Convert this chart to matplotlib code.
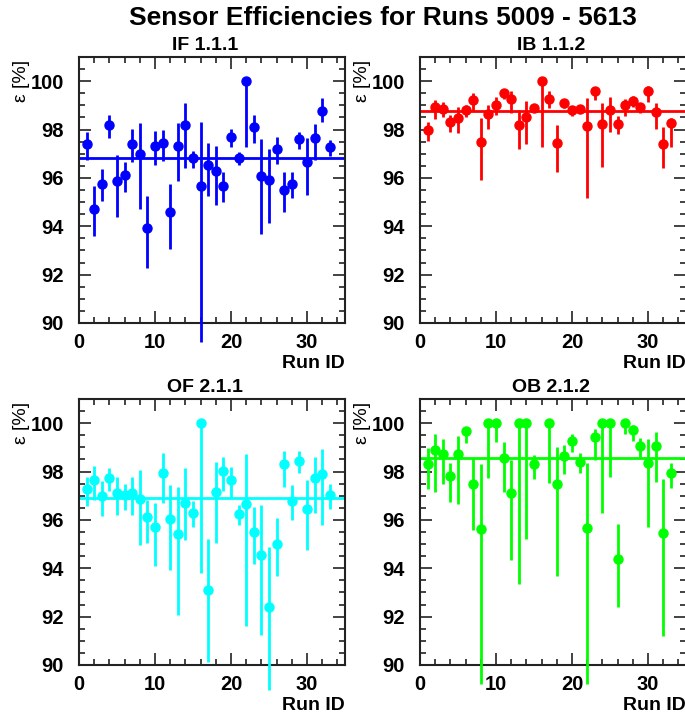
import matplotlib
matplotlib.use("Agg")
import matplotlib.pyplot as plt
from matplotlib.ticker import MultipleLocator
import numpy as np

plt.rcParams['font.family'] = ['Liberation Sans', 'DejaVu Sans']

title = "Sensor Efficiencies for Runs 5009 - 5613"
xlabel = "Run ID"
ylabel = "ε [%]"

runs_all = list(range(1, 34))

# IF 1.1.1
eff_IF = [97.39, 94.72, 95.76, 98.18, 95.86, 96.10, 97.42, 96.99, 93.92, 97.33, 97.46, 94.58, 97.33, 98.18, 96.81, 95.67, 96.53,
          96.29, 95.67, 97.69, 96.81, 100.0, 98.11, 96.08, 95.92, 97.19, 95.49, 95.76, 97.60, 96.67, 97.63, 98.75, 97.29]
hi_IF = [97.89, 95.67, 96.35, 98.61, 96.94, 96.64, 98.01, 98.29, 95.24, 97.94, 97.97, 95.76, 98.26, 99.10, 97.11, 98.30, 97.43,
         97.33, 96.25, 98.01, 97.06, 100.0, 98.61, 97.60, 97.20, 97.68, 96.25, 96.25, 97.89, 97.64, 98.25, 99.31, 97.57]
lo_IF = [96.74, 93.58, 95.03, 97.64, 94.38, 95.42, 96.64, 94.72, 92.26, 96.53, 96.69, 93.06, 95.86, 96.39, 96.39, 89.20, 95.25,
         94.89, 95.00, 97.29, 96.53, 97.29, 97.43, 93.68, 94.13, 96.58, 94.58, 95.17, 97.19, 95.28, 96.76, 98.33, 96.90]
mean_IF = 96.83

# IB 1.1.2
eff_IB = [97.97, 98.93, 98.86, 98.31, 98.47, 98.79, 99.24, 97.47, 98.64, 99.00, 99.53, 99.26, 98.19, 98.53, 98.89, 100.0, 99.26,
          97.43, 99.08, 98.81, 98.85, 98.13, 99.58, 98.22, 98.81, 98.24, 99.00, 99.19, 98.92, 99.58, 98.72, 97.39, 98.29]
hi_IB = [98.31, 99.24, 99.14, 98.61, 98.92, 99.03, 99.51, 98.47, 99.03, 99.33, 99.69, 99.58, 98.82, 99.17, 99.06, 100.0, 99.58,
         98.19, 99.24, 98.96, 98.96, 99.31, 99.75, 99.10, 99.33, 98.57, 99.28, 99.38, 99.06, 99.79, 99.10, 98.10, 98.47]
lo_IB = [97.53, 98.44, 98.50, 97.89, 97.85, 98.50, 98.78, 95.90, 98.03, 98.61, 99.28, 98.68, 97.19, 97.39, 98.72, 97.29, 98.90,
         96.25, 98.89, 98.54, 98.71, 95.17, 99.24, 96.46, 97.89, 97.81, 98.57, 98.92, 98.68, 99.14, 98.03, 96.39, 97.29]
mean_IB = 98.78

# OF 2.1.1
eff_OF = [97.27, 97.63, 96.97, 97.75, 97.10, 97.02, 97.10, 96.87, 96.10, 95.70, 97.96, 96.04, 95.42, 96.69, 96.28, 100.0, 93.10,
          97.17, 98.03, 97.63, 96.25, 96.66, 95.52, 94.54, 92.41, 95.01, 98.30, 96.80, 98.44, 96.46, 97.75, 97.90, 97.03]
hi_OF = [97.79, 98.23, 97.59, 98.14, 97.79, 97.49, 97.77, 98.07, 96.83, 96.69, 98.76, 97.45, 97.35, 98.14, 96.80, 100.0, 95.20,
         98.39, 98.62, 98.17, 96.62, 98.72, 96.55, 96.62, 94.90, 96.07, 98.87, 97.45, 98.83, 97.66, 98.59, 98.92, 97.49]
lo_OF = [96.58, 96.83, 96.17, 97.21, 96.21, 96.41, 96.21, 94.97, 95.06, 94.10, 96.69, 93.93, 92.07, 95.17, 95.70, 93.79, 90.14,
         95.06, 97.21, 96.90, 95.79, 91.61, 94.18, 91.24, 88.97, 93.66, 97.35, 96.00, 97.96, 94.76, 96.30, 95.79, 96.44]
mean_OF = 96.90

# OB 2.1.2 (run 16 missing)
runs_OB = list(range(1, 16)) + list(range(17, 34))
eff_OB = [98.31, 98.89, 98.73, 97.81, 98.71, 99.68, 97.48, 95.64, 100.0, 100.0, 98.55, 97.10, 100.0, 100.0, 98.30,
          100.0, 97.48, 98.64, 99.27, 98.40, 95.66, 99.42, 100.0, 100.0, 94.38, 100.0, 99.72, 99.07, 98.34, 99.07, 95.46, 97.93]
hi_OB = [98.96, 99.56, 99.34, 98.37, 99.47, 99.79, 98.55, 98.31, 100.0, 100.0, 99.24, 98.48, 100.0, 100.0, 98.69,
         100.0, 99.00, 99.10, 99.54, 98.76, 98.34, 99.75, 100.0, 100.0, 95.85, 100.0, 99.93, 99.38, 99.34, 99.63, 97.68, 98.37]
lo_OB = [97.26, 97.16, 97.47, 96.75, 96.65, 99.20, 95.60, 89.20, 97.72, 99.24, 97.16, 94.33, 93.36, 95.23, 97.68,
         97.51, 93.67, 97.90, 98.82, 97.95, 89.20, 98.48, 96.29, 97.79, 92.39, 99.56, 99.28, 98.59, 95.71, 97.58, 91.18, 97.30]
mean_OB = 98.58

panels = [
    ("IF 1.1.1", runs_all, eff_IF, lo_IF, hi_IF, mean_IF, "#0000ff"),
    ("IB 1.1.2", runs_all, eff_IB, lo_IB, hi_IB, mean_IB, "#ff0000"),
    ("OF 2.1.1", runs_all, eff_OF, lo_OF, hi_OF, mean_OF, "#00ffff"),
    ("OB 2.1.2", runs_OB, eff_OB, lo_OB, hi_OB, mean_OB, "#00ff00"),
]

W, H = 685, 714
fig = plt.figure(figsize=(W / 100, H / 100), dpi=100)

# axes boxes in pixels: left, top, right, bottom
boxes = [(79, 57, 345, 323), (420, 57, 686, 323), (79, 399, 345, 665), (420, 399, 686, 665)]

fs = 14
for (name, runs, eff, lo, hi, mean, col), (l, t, r, b) in zip(panels, boxes):
    ax = fig.add_axes([l / W, 1 - b / H, (r - l) / W, (b - t) / H])
    eff = np.array(eff)
    yerr = [eff - np.array(lo), np.array(hi) - eff]
    ax.axhline(mean, color=col, lw=2, zorder=2)
    ax.errorbar(runs, eff, yerr=yerr, fmt='o', color=col, ms=6.5, lw=2, capsize=0, clip_on=False, zorder=3)
    ax.set_xlim(0, 35)
    ax.set_ylim(90, 101)
    ax.xaxis.set_major_locator(MultipleLocator(10))
    ax.xaxis.set_minor_locator(MultipleLocator(2))
    ax.yaxis.set_major_locator(MultipleLocator(2))
    ax.yaxis.set_minor_locator(MultipleLocator(0.5))
    ax.tick_params(which='both', direction='in', top=True, right=True, width=1.2, colors='#222222')
    ax.tick_params(which='major', length=8.5)
    ax.tick_params(which='minor', length=4)
    ax.tick_params(axis='both', labelsize=14.5, labelcolor='black')
    ax.tick_params(axis='x', pad=7)
    ax.tick_params(axis='y', pad=11)
    for lab in ax.get_xticklabels() + ax.get_yticklabels():
        lab.set_fontweight('bold')
    for sp in ax.spines.values():
        sp.set_linewidth(1.5)
        sp.set_color('#222222')
    ax.text(1.0, -0.12, xlabel, transform=ax.transAxes, ha='right', va='top', fontsize=fs, fontweight='bold')
    ax.text(-0.184, 0.989, ylabel, transform=ax.transAxes, ha='right', va='bottom', rotation=90,
            fontsize=fs, rotation_mode='anchor')
    cx = (l + r) / 2 - (7 if l < 200 else 2)
    fig.text(cx / W, 1 - (t - 11) / H, name, ha='center', va='center', fontsize=fs, fontweight='bold')

fig.text(383 / W, 1 - 18 / H, title, ha='center', va='center', fontsize=19, fontweight='bold')

fig.savefig("out.png", dpi=100)
